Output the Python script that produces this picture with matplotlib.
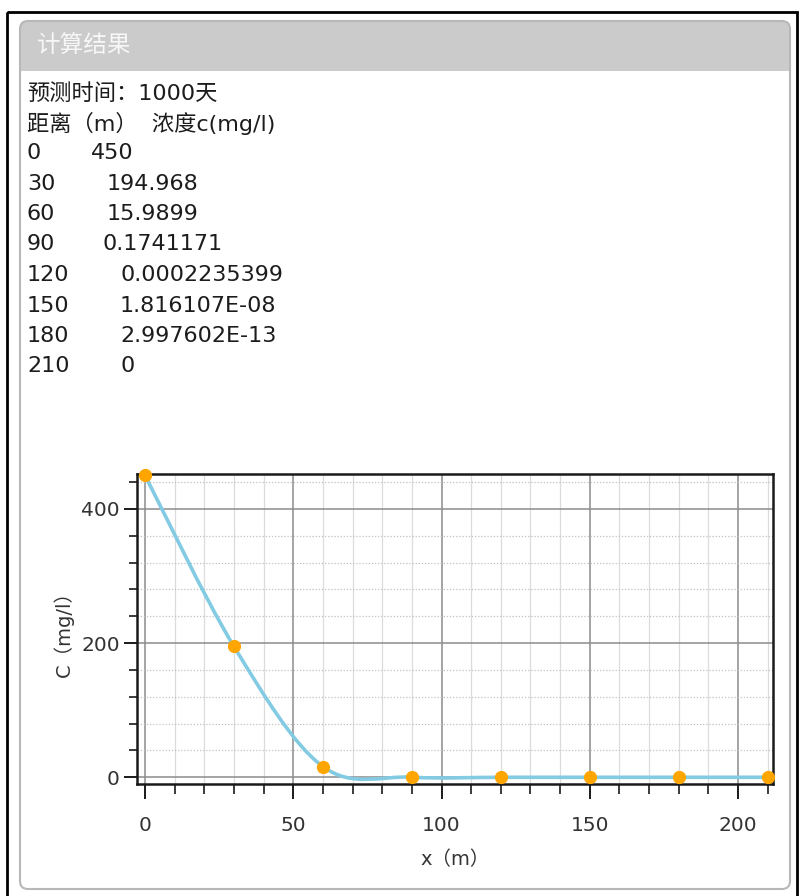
import matplotlib
matplotlib.use("Agg")
import matplotlib.pyplot as plt
import numpy as np
from matplotlib.patches import FancyBboxPatch, Rectangle, PathPatch
from matplotlib.path import Path
from matplotlib.ticker import MultipleLocator

plt.rcParams['font.family'] = ['DejaVu Sans', 'Noto Sans CJK SC']

# data
title = "计算结果"
time_line = "预测时间：1000天"
header_line = "距离（m）  浓度c(mg/l)"
distance = [0, 30, 60, 90, 120, 150, 180, 210]
conc_text = ["450", "194.968", "15.9899", "0.1741171", "0.0002235399",
             "1.816107E-08", "2.997602E-13", "0"]
conc = [450, 194.968, 15.9899, 0.1741171, 0.0002235399,
        1.816107e-08, 2.997602e-13, 0]

W, H = 799, 896
fig = plt.figure(figsize=(W / 100, H / 100), dpi=100)

# background layer in pixel coordinates
bg = fig.add_axes([0, 0, 1, 1])
bg.set_xlim(0, W)
bg.set_ylim(H, 0)
bg.axis("off")

bg.add_patch(Rectangle((7, 12), W - 9, H - 10, fill=False, ec="black", lw=2))
bg.add_patch(FancyBboxPatch((20, 21), 770, 868, boxstyle="round,pad=0,rounding_size=8",
                            fc="white", ec="none"))
bg.add_patch(FancyBboxPatch((20, 21), 770, 62, boxstyle="round,pad=0,rounding_size=8",
                            fc="#cbcbcb", ec="none"))
bg.add_patch(Rectangle((20, 71), 770, 14, fc="white", ec="none"))
bg.add_patch(FancyBboxPatch((20, 21), 770, 868, boxstyle="round,pad=0,rounding_size=8",
                            fill=False, ec="#b8b8b8", lw=1.5))
bg.text(37, 46, title, color="#f7f7f7", fontsize=17, va="center", ha="left")

fs = 16
tc = "#1c1c1c"
bg.text(27, 94, time_line, fontsize=fs, va="center", color=tc)
bg.text(27, 123, header_line, fontsize=fs, va="center", color=tc)
conc_x = [91, 107, 107, 103, 120, 120, 120, 120]
for i, (d, c) in enumerate(zip(distance, conc_text)):
    y = 153 + i * 30.5
    bg.text(27, y, str(d), fontsize=fs, va="center", color=tc)
    bg.text(conc_x[i], y, c, fontsize=fs, va="center", color=tc)

# chart
ax = fig.add_axes([137 / W, 1 - 784 / H, (773 - 137) / W, (784 - 474) / H])
ax.set_xlim(-2.7, 211.8)
ax.set_ylim(-10, 452)

# smooth curve through the points (cardinal spline rendering)
x = np.array(distance, dtype=float)
y = np.array(conc, dtype=float)
verts = [(x[0], y[0])]
codes = [Path.MOVETO]
for i in range(len(x) - 1):
    p0 = np.array([x[max(i - 1, 0)], y[max(i - 1, 0)]])
    p1 = np.array([x[i], y[i]])
    p2 = np.array([x[i + 1], y[i + 1]])
    p3 = np.array([x[min(i + 2, len(x) - 1)], y[min(i + 2, len(x) - 1)]])
    c1 = p1 + (p2 - p0) / 6
    c2 = p2 - (p3 - p1) / 6
    verts += [tuple(c1), tuple(c2), tuple(p2)]
    codes += [Path.CURVE4] * 3
ax.add_patch(PathPatch(Path(verts, codes), fill=False, ec="#82cbe3", lw=2.6, zorder=3))
ax.plot(distance, conc, "o", color="#ffa500", ms=8.5, mec="#ffa500", zorder=4, clip_on=False)

ax.xaxis.set_major_locator(MultipleLocator(50))
ax.xaxis.set_minor_locator(MultipleLocator(10))
ax.yaxis.set_major_locator(MultipleLocator(200))
ax.yaxis.set_minor_locator(MultipleLocator(40))
ax.grid(which="major", color="#8c8c8c", lw=1.1)
ax.grid(which="minor", axis="x", color="#dcdcdc", lw=0.9)
ax.grid(which="minor", axis="y", color="#c0c0c0", lw=0.9, ls=(0, (1, 1.5)))
ax.set_axisbelow(True)

for s in ax.spines.values():
    s.set_color("#1a1a1a")
    s.set_linewidth(1.8)
ax.tick_params(which="major", width=1.4, color="#1a1a1a", labelsize=14.5,
               labelcolor="#333333")
ax.tick_params(axis="x", which="major", length=11, pad=12)
ax.tick_params(axis="y", which="major", length=9.5, pad=3)
ax.tick_params(axis="x", which="minor", length=7, width=1.2, color="#1a1a1a")
ax.tick_params(axis="y", which="minor", length=6, width=1.2, color="#1a1a1a")

ax.set_xlabel("x（m）", fontsize=14, color="#333333", labelpad=11)
ax.set_ylabel("C（mg/l）", fontsize=14, color="#333333", labelpad=5)

fig.savefig("out.png", dpi=100)
